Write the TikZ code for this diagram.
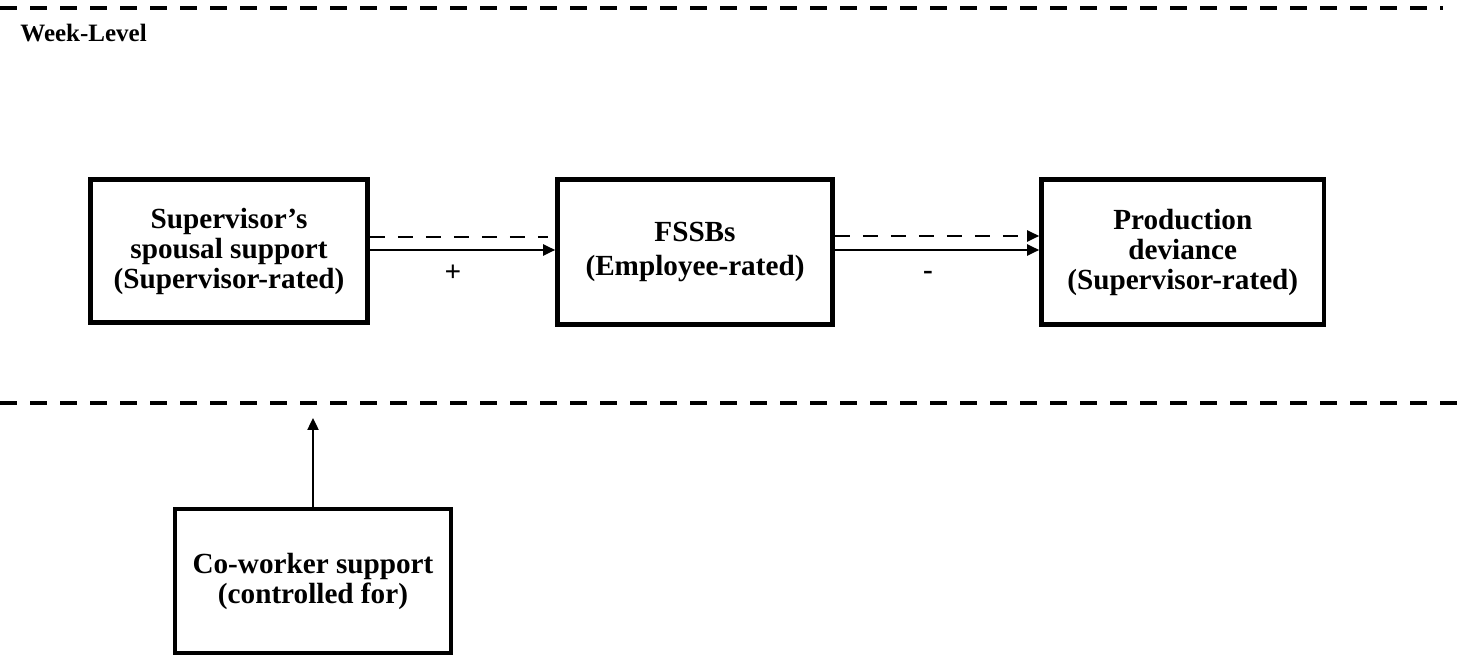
\documentclass[tikz,border=0pt]{standalone}
\usepackage{fontspec}
\setmainfont{Liberation Serif}
\usetikzlibrary{arrows.meta}
\begin{document}
\begin{tikzpicture}[x=0.5pt,y=-0.5pt,
  box/.style={draw=black,line width=2.3pt,inner sep=0pt,align=center,
    font=\fontsize{14.6}{15}\selectfont\bfseries},
  sepline/.style={line width=2pt,dash pattern=on 8.5pt off 6.5pt},
  conn/.style={line width=1.2pt,-{Triangle[length=6pt,width=5.5pt]}},
  dconn/.style={conn,dash pattern=on 7.5pt off 6.5pt},
  sign/.style={font=\fontsize{14.6}{15}\selectfont\bfseries,inner sep=0pt}]
\useasboundingbox (0,0) rectangle (1463,657);
% separator lines
\coordinate (t1) at (0,8);
\coordinate (t2) at (1443,8);
\coordinate (s1) at (0,403);
\coordinate (s2) at (1463,403);
\draw[sepline] (t1) -- (t2);
\draw[sepline] (s1) -- (s2);
\node[anchor=base west,inner sep=0pt,font=\fontsize{12.5}{13}\selectfont\bfseries] (wl) at (20,42) {Week-Level};
% boxes
\node[box,minimum width=138.5pt,minimum height=71.75pt] (b1) at (229,251)
  {Supervisor’s\\spousal support\\(Supervisor-rated)};
\node[box,minimum width=137.5pt,minimum height=72.5pt,
  font=\fontsize{14.6}{17}\selectfont\bfseries] (b2) at (695,252)
  {FSSBs\\(Employee-rated)};
\node[box,minimum width=141.25pt,minimum height=72.5pt] (b3) at (1182.75,252)
  {Production\\deviance\\(Supervisor-rated)};
\node[box,minimum width=138pt,minimum height=72pt] (b4) at (313,581)
  {Co-worker support\\(controlled for)};
% connectors
\draw[line width=1.2pt,dash pattern=on 7.5pt off 6.5pt] ([yshift=7pt]b1.east) -- ([xshift=-3.5pt,yshift=7.5pt]b2.west);
\draw[conn] ([yshift=0.5pt]b1.east) -- ([yshift=1pt]b2.west);
\draw[dconn] ([yshift=8pt]b2.east) -- ([yshift=8pt]b3.west);
\draw[conn] ([yshift=1pt]b2.east) -- ([yshift=1pt]b3.west);
\coordinate (ct) at (313,418);
\draw[conn] (b4.north) -- (ct);
% signs
\node[sign] (plus) at (453,273) {+};
\node[sign] (minus) at (928,275) {-};
\end{tikzpicture}
\end{document}
